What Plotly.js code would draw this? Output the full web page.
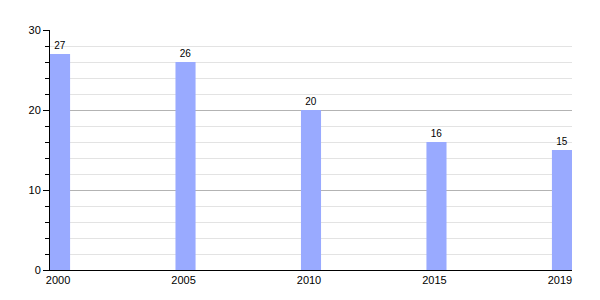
<!DOCTYPE html>
<html><head><meta charset="utf-8">
<script src="https://cdn.plot.ly/plotly-3.0.1.min.js"></script>
<style>body{margin:0;background:#fff}#c{width:600px;height:300px}</style>
</head><body><div id="c"></div>
<script>
const years = ["2000","2005","2010","2015","2019"];
const values = [27,26,20,16,15];

Plotly.newPlot('c', [{
  type:'bar', x: years, y: values,
  marker:{color:'#99aaff'},
  width:0.16,
  text: values.map(String), textposition:'outside', cliponaxis:false,
  textfont:{family:'Liberation Sans, Arial, sans-serif', size:10, color:'#000'}
}], {
  width:600, height:300,
  margin:{l:50, r:28, t:30, b:30},
  paper_bgcolor:'#fff', plot_bgcolor:'#fff',
  font:{family:'Liberation Sans, Arial, sans-serif', size:11, color:'#000'},
  showlegend:false,
  xaxis:{type:'category', range:[-0.08,4.08], showline:true, linecolor:'#000', linewidth:1,
         ticks:'', showgrid:false, zeroline:false, tickfont:{size:11}, ticklabelshift:-2},
  yaxis:{range:[0,30], dtick:10, showline:true, linecolor:'#000', linewidth:1,
         ticks:'outside', ticklen:6, tickcolor:'#000', showgrid:true, gridcolor:'#b3b3b3',
         zeroline:false, tickfont:{size:11},
         minor:{dtick:2, showgrid:true, gridcolor:'#e3e3e3', ticks:'outside', ticklen:4, tickcolor:'#000'}}
}, {staticPlot:true});
</script></body></html>
